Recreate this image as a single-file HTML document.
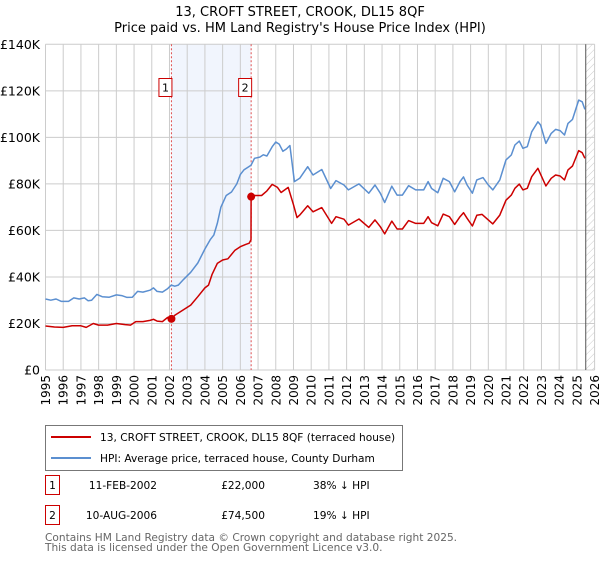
<!DOCTYPE html>
<html><head><meta charset="utf-8"><style>
body{margin:0;background:#fff;font-family:"Liberation Sans","DejaVu Sans",sans-serif;}
svg text{font-family:"DejaVu Sans","Liberation Sans",sans-serif;}
</style></head><body>
<svg id="c" width="600" height="560" viewBox="0 0 600 560" xmlns="http://www.w3.org/2000/svg">
<defs><pattern id="hatch" width="5" height="5" patternUnits="userSpaceOnUse" patternTransform="rotate(45)"><line x1="0" y1="0" x2="0" y2="5" stroke="#ccc" stroke-width="1"/></pattern></defs>
<text x="300" y="16" text-anchor="middle" font-size="13" fill="#000">13, CROFT STREET, CROOK, DL15 8QF</text>
<text x="300" y="32" text-anchor="middle" font-size="13" fill="#000">Price paid vs. HM Land Registry's House Price Index (HPI)</text>
<g id="grid"></g><g id="marks"></g>
<g>
<rect x="45.5" y="425.5" width="357" height="45" fill="#fff" stroke="#777"/>
<line x1="51" y1="437" x2="91" y2="437" stroke="#cc0000" stroke-width="2"/>
<text x="100" y="441" font-size="10.6">13, CROFT STREET, CROOK, DL15 8QF (terraced house)</text>
<line x1="51" y1="458" x2="91" y2="458" stroke="#5b8fd0" stroke-width="2"/>
<text x="100" y="462" font-size="10.6">HPI: Average price, terraced house, County Durham</text>
</g>
<g>
<rect x="45.5" y="475.5" width="14" height="19" fill="#fff" stroke="#cc0000"/>
<text x="52.5" y="489" font-size="10.6" text-anchor="middle">1</text>
<text x="157" y="489" font-size="10.6" text-anchor="end">11-FEB-2002</text>
<text x="265" y="489" font-size="10.6" text-anchor="end">£22,000</text>
<text x="313" y="489" font-size="10.6">38% ↓ HPI</text>
<rect x="45.5" y="505.5" width="14" height="19" fill="#fff" stroke="#cc0000"/>
<text x="52.5" y="519" font-size="10.6" text-anchor="middle">2</text>
<text x="157" y="519" font-size="10.6" text-anchor="end">10-AUG-2006</text>
<text x="265" y="519" font-size="10.6" text-anchor="end">£74,500</text>
<text x="313" y="519" font-size="10.6">19% ↓ HPI</text>
</g>
<text x="45" y="541" font-size="10.6" fill="#666">Contains HM Land Registry data © Crown copyright and database right 2025.</text>
<text x="45" y="551" font-size="10.6" fill="#666">This data is licensed under the Open Government Licence v3.0.</text>
</svg>
<script>
const yearTicks=[1995,1996,1997,1998,1999,2000,2001,2002,2003,2004,2005,2006,2007,2008,2009,2010,2011,2012,2013,2014,2015,2016,2017,2018,2019,2020,2021,2022,2023,2024,2025,2026];
const valueTicks=[0,20,40,60,80,100,120,140];
const valueLabels=["£0","£20K","£40K","£60K","£80K","£100K","£120K","£140K"];
const hpiYears=[1995.0,1995.3,1995.6,1995.9,1996.3,1996.6,1996.9,1997.2,1997.4,1997.6,1997.9,1998.2,1998.6,1999.0,1999.3,1999.6,1999.9,2000.2,2000.5,2000.9,2001.1,2001.3,2001.6,2001.9,2002.1,2002.3,2002.5,2002.8,2003.2,2003.6,2004.0,2004.3,2004.5,2004.7,2004.9,2005.2,2005.5,2005.8,2006.0,2006.2,2006.4,2006.6,2006.8,2007.1,2007.3,2007.5,2007.8,2008.0,2008.2,2008.4,2008.6,2008.8,2009.05,2009.35,2009.8,2010.1,2010.6,2011.1,2011.4,2011.85,2012.1,2012.7,2013.25,2013.6,2013.9,2014.15,2014.55,2014.85,2015.15,2015.5,2015.9,2016.35,2016.6,2016.8,2017.15,2017.45,2017.8,2018.1,2018.4,2018.6,2018.8,2019.1,2019.35,2019.7,2020.0,2020.25,2020.65,2021.0,2021.3,2021.5,2021.75,2021.95,2022.2,2022.45,2022.8,2022.95,2023.25,2023.55,2023.8,2024.05,2024.3,2024.5,2024.75,2025.1,2025.3,2025.45];
const hpiValues=[30.5,30,30.5,29.5,29.5,31,30.5,31,29.8,30,32.5,31.5,31.3,32.3,32,31.2,31.3,33.8,33.5,34.3,35.3,33.8,33.5,35,36.5,36,36.5,39,42,46,52,56,58,63,70,75,76.5,80,84,86,87,88,91,91.5,92.5,92,96,98,97,94,95,96.5,81,82.4,87.4,83.8,86.2,78,81.4,79.5,77.4,80,76,79.5,76,72,79,75.2,75.2,79.2,77.4,77.4,81,78,76.2,82.4,81,76.6,81,83,79.5,76,81.7,82.7,79.5,77.4,81.7,90.3,92.4,96.7,98.4,95.3,96,102.4,106.7,105.3,97.4,101.7,103.4,102.9,101,106,107.7,116,115.3,112];
const propYears=[1995.0,1995.5,1996.0,1996.5,1997.0,1997.3,1997.7,1998.0,1998.5,1999.0,1999.5,1999.8,2000.1,2000.5,2000.9,2001.1,2001.3,2001.6,2001.9,2002.11,2002.3,2002.7,2003.2,2003.6,2004.0,2004.2,2004.4,2004.7,2005.0,2005.3,2005.7,2006.0,2006.3,2006.5,2006.6,2006.61,2006.8,2007.2,2007.5,2007.8,2008.1,2008.3,2008.7,2009.0,2009.2,2009.35,2009.8,2010.1,2010.6,2011.15,2011.4,2011.85,2012.1,2012.7,2013.25,2013.6,2013.9,2014.15,2014.55,2014.85,2015.15,2015.5,2015.9,2016.35,2016.6,2016.8,2017.15,2017.45,2017.8,2018.1,2018.4,2018.6,2018.8,2019.1,2019.35,2019.65,2020.0,2020.25,2020.65,2021.0,2021.3,2021.5,2021.75,2021.95,2022.2,2022.45,2022.8,2023.25,2023.55,2023.8,2024.05,2024.3,2024.5,2024.75,2025.1,2025.3,2025.45];
const propValues=[18.9,18.5,18.3,19,19,18.3,20,19.3,19.3,20,19.5,19.3,20.8,20.8,21.3,21.8,21,20.8,22.6,22,23.5,25.5,27.9,31.5,35.3,36.5,41,45.8,47.3,47.8,51.5,53,54,54.5,56,74.5,75,75,77,79.8,78.5,76.3,78.5,71,65.5,66.6,70.6,68,69.8,63,65.9,64.8,62.3,64.9,61.3,64.5,61.6,58.5,64,60.6,60.6,64.2,63,63,65.9,63.3,62,67,65.9,62.6,65.9,67.6,65.2,61.9,66.5,66.9,64.5,62.8,66.6,73,75.2,78.1,79.9,77.4,78.1,83.1,86.7,79.1,82.4,83.8,83.4,81.7,86,87.7,94.3,93.4,91];
const saleYears=[2002.11,2006.61];
const saleValues=[22,74.5];
const saleLabels=["1","2"];
const dataEndYear=2025.5;

const X0=45.5,X1=594.6,Y0=370,Y1=44.3;
const xs=y=>X0+(y-1995)/(2026-1995)*(X1-X0);
const ys=v=>Y0-v/140*(Y0-Y1);
const NS="http://www.w3.org/2000/svg";
function mk(tag,attrs,parent){const e=document.createElementNS(NS,tag);for(const k in attrs)e.setAttribute(k,attrs[k]);parent.appendChild(e);return e;}
const grid=document.getElementById('grid'),marks=document.getElementById('marks');
let sh=mk('rect',{x:xs(saleYears[0]),y:Y1,width:xs(saleYears[1])-xs(saleYears[0]),height:Y0-Y1,fill:'#eef2fc',opacity:0.8},grid);


let ht=mk('rect',{x:xs(dataEndYear),y:Y1,width:X1-xs(dataEndYear),height:Y0-Y1,fill:'url(#hatch)'},grid);


yearTicks.forEach(yr=>{
  const x=xs(yr);
  mk('line',{x1:x,y1:Y1,x2:x,y2:Y0,stroke:'#ccc','stroke-width':1},grid);
  const t=mk('text',{x:0,y:0,'font-size':12,'text-anchor':'end',transform:`translate(${x+4.5},${Y0+5}) rotate(-90)`},grid);
  t.textContent=yr;
  
  
});
valueTicks.forEach((v,i)=>{
  const y=ys(v);
  mk('line',{x1:X0,y1:y,x2:X1,y2:y,stroke:'#ccc','stroke-width':1},grid);
  const t=mk('text',{x:40,y:y+4.5,'font-size':12.5,'text-anchor':'end'},grid);
  t.textContent=valueLabels[i];
  
  
});
let el=mk('line',{x1:xs(dataEndYear),y1:Y1,x2:xs(dataEndYear),y2:Y0,stroke:'#555','stroke-width':1},grid);


saleYears.forEach((yr,i)=>{
  const x=xs(yr);
  const l=mk('line',{x1:x,y1:Y1,x2:x,y2:Y0,stroke:'#e05050','stroke-width':1,'stroke-dasharray':'2,2'},marks);
  
  
  const b=mk('rect',{x:x-12.5,y:78.5,width:13,height:18,fill:'#fff',stroke:'#cc0000'},marks);
  
  
  const t=mk('text',{x:x-6,y:91.5,'font-size':11,'text-anchor':'middle'},marks);
  t.textContent=saleLabels[i];
});
function line(xa,va,color,name){
  const d=xa.map((x,i)=>(i?'L':'M')+xs(x).toFixed(1)+','+ys(va[i]).toFixed(1)).join('');
  const p=mk('path',{d:d,fill:'none',stroke:color,'stroke-width':1.5,'stroke-linejoin':'round'},marks);
  
  
}
line(hpiYears,hpiValues,'#5b8fd0','hpi-line');
line(propYears,propValues,'#cc0000','property-price-line');
saleYears.forEach((yr,i)=>{
  const c=mk('circle',{cx:xs(yr),cy:ys(saleValues[i]),r:4,fill:'#cc0000'},marks);
  
  
});
</script>
</body></html>
